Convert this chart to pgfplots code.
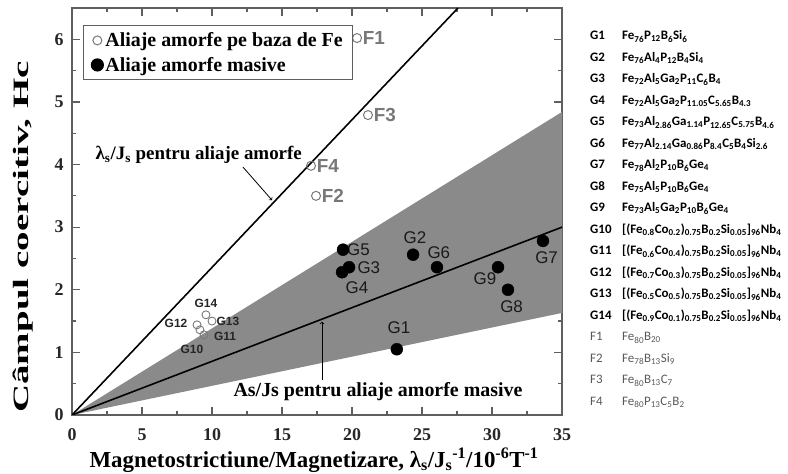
\documentclass[border=0pt]{standalone}
\usepackage{fontspec}
\setmainfont{Liberation Serif}
\newfontfamily\arialf{Liberation Sans}
\newfontfamily\calibf{Carlito}
\usepackage{graphicx}
\usepackage{pgfplots}
\pgfplotsset{compat=1.18}
\definecolor{band}{RGB}{138,138,138}
\definecolor{axgray}{RGB}{95,95,95}
\definecolor{fgray}{RGB}{120,120,120}
\newcommand{\fs}[1]{\fontsize{#1}{#1}\selectfont}
\newcommand{\s}[1]{\textsubscript{#1}}
\begin{document}
\begin{tikzpicture}[x=1bp,y=1bp]
\useasboundingbox (-72,-59) rectangle (716,415);
\begin{axis}[
  at={(0,0)}, anchor=south west,
  scale only axis, width=490bp, height=407bp,
  xmin=0, xmax=35, ymin=0, ymax=6.5,
  xtick={0,5,...,35}, ytick={0,1,...,6},
  xticklabels={\raisebox{5bp}{0},5,\raisebox{2bp}{10},15,\raisebox{2bp}{20},25,\raisebox{2bp}{30},\raisebox{5bp}{35}},
  minor x tick num=1, minor y tick num=1,
  major tick length=8bp, minor tick length=4bp,
  tick style={axgray, line width=1.2pt},
  axis line style={axgray, line width=1.5pt},
  tick pos=both, xticklabel pos=lower, yticklabel pos=left,
  /pgf/number format/assume math mode=true,
  ticklabel style={font=\bfseries\fs{18}, text=black!85},
  xticklabel style={yshift=-10bp},
  yticklabel style={xshift=-5bp},
  legend cell align=left,
  legend image code/.code={\draw[mark repeat=2,mark phase=2,#1] plot coordinates {(0bp,0bp) (6bp,0bp) (12bp,0bp)};},
  legend style={at={(0.022,0.958)}, anchor=north west, draw=axgray, line width=1.2pt,
    font=\bfseries\fs{20}, inner xsep=8bp, inner ysep=5bp, row sep=5bp},
]
% shaded band for bulk amorphous alloys
\addplot[fill=band, draw=none, forget plot] coordinates {(0,0) (35,4.84) (35,1.63) (0,0)};
% lines
\addplot[black, line width=1.6pt, forget plot] coordinates {(0,0) (27.57,6.5)};
\addplot[black, line width=1.6pt, forget plot] coordinates {(0,0) (35,3.0)};
% Fe-based amorphous alloys (F1-F4)
\addplot[only marks, mark=o, mark size=4.5bp, fgray, line width=1pt]
  coordinates {(20.36,6.02) (21.14,4.79) (17.07,3.98) (17.43,3.5)};
\addlegendentry{Aliaje amorfe pe baza de Fe}
% bulk amorphous alloys G1-G9
\addplot[only marks, mark=*, mark size=6bp, black]
  coordinates {(23.2,1.05) (24.36,2.56) (19.79,2.36) (19.29,2.28) (19.36,2.64) (26.07,2.36) (33.64,2.78) (31.14,2.0) (30.43,2.36)};
\addlegendentry{Aliaje amorfe masive}
% G10-G14
\addplot[only marks, mark=o, mark size=4bp, fgray, line width=0.9pt, forget plot]
  coordinates {(9.14,1.36) (9.43,1.28) (8.93,1.44) (10.0,1.5) (9.57,1.6)};
% point labels
\begin{scope}[every node/.style={font=\arialf\bfseries\fs{19}, text=fgray, anchor=west, inner sep=0pt}]
\node at (axis cs:20.76,6.02) {F1};
\node at (axis cs:21.54,4.79) {F3};
\node at (axis cs:17.47,3.98) {F4};
\node at (axis cs:17.83,3.5) {F2};
\end{scope}
\begin{scope}[every node/.style={font=\arialf\fs{17}, text=black!90, inner sep=0pt}]
\node[anchor=west] at (axis cs:19.64,2.64) {G5};
\node at (axis cs:24.5,2.83) {G2};
\node at (axis cs:21.2,2.35) {G3};
\node at (axis cs:20.36,2.04) {G4};
\node at (axis cs:26.2,2.6) {G6};
\node at (axis cs:29.5,2.17) {G9};
\node at (axis cs:31.4,1.73) {G8};
\node at (axis cs:33.9,2.52) {G7};
\node at (axis cs:23.36,1.39) {G1};
\end{scope}
\begin{scope}[every node/.style={font=\arialf\bfseries\fs{12}, text=black!85, inner sep=0pt}]
\node at (axis cs:9.57,1.79) {G14};
\node at (axis cs:7.43,1.47) {G12};
\node at (axis cs:11.14,1.5) {G13};
\node at (axis cs:10.93,1.25) {G11};
\node at (axis cs:8.57,1.04) {G10};
\end{scope}
% annotations
\node[anchor=east, font=\bfseries\fs{19}, inner sep=0pt] at (axis cs:16.43,4.15) {λ\s{s}/J\s{s} pentru aliaje amorfe};
\draw[->, line width=0.8pt] (axis cs:12.21,3.96) -- (axis cs:14.29,3.43);
\node[font=\bfseries\fs{20}, inner sep=0pt] at (axis cs:21.86,0.38) {As/Js pentru aliaje amorfe masive};
\draw[->, line width=0.8pt] (axis cs:17.86,0.56) -- (axis cs:17.86,1.49);
\end{axis}
% axis titles
\node[rotate=90, inner sep=0pt] at (-49,178) {\scalebox{1.78}[1]{\bfseries\fs{22}Câmpul coercitiv, Hc}};
\node[inner sep=0pt, font=\bfseries\fs{23}] at (242,-45) {Magnetostrictiune/Magnetizare, λ\s{s}/J\s{s}\textsuperscript{-1}/10\textsuperscript{-6}T\textsuperscript{-1}};
% list of compositions
\begin{scope}[every node/.style={anchor=base west, inner sep=0pt}]
\foreach \lab/\form [count=\i] in {
 G1/{Fe\s{76}P\s{12}B\s{6}Si\s{6}},
 G2/{Fe\s{76}Al\s{4}P\s{12}B\s{4}Si\s{4}},
 G3/{Fe\s{72}Al\s{5}Ga\s{2}P\s{11}C\s{6}B\s{4}},
 G4/{Fe\s{72}Al\s{5}Ga\s{2}P\s{11.05}C\s{5.65}B\s{4.3}},
 G5/{Fe\s{73}Al\s{2.86}Ga\s{1.14}P\s{12.65}C\s{5.75}B\s{4.6}},
 G6/{Fe\s{77}Al\s{2.14}Ga\s{0.86}P\s{8.4}C\s{5}B\s{4}Si\s{2.6}},
 G7/{Fe\s{78}Al\s{2}P\s{10}B\s{6}Ge\s{4}},
 G8/{Fe\s{75}Al\s{5}P\s{10}B\s{6}Ge\s{4}},
 G9/{Fe\s{73}Al\s{5}Ga\s{2}P\s{10}B\s{6}Ge\s{4}},
 G10/{[(Fe\s{0.8}Co\s{0.2})\s{0.75}B\s{0.2}Si\s{0.05}]\s{96}Nb\s{4}},
 G11/{[(Fe\s{0.6}Co\s{0.4})\s{0.75}B\s{0.2}Si\s{0.05}]\s{96}Nb\s{4}},
 G12/{[(Fe\s{0.7}Co\s{0.3})\s{0.75}B\s{0.2}Si\s{0.05}]\s{96}Nb\s{4}},
 G13/{[(Fe\s{0.5}Co\s{0.5})\s{0.75}B\s{0.2}Si\s{0.05}]\s{96}Nb\s{4}},
 G14/{[(Fe\s{0.9}Co\s{0.1})\s{0.75}B\s{0.2}Si\s{0.05}]\s{96}Nb\s{4}}}
{
 \node[font=\calibf\bfseries\fs{13}] at (518,{415-36-21.5*(\i-1)-4}) {\lab};
 \node[font=\calibf\bfseries\fs{13}] at (550,{415-36-21.5*(\i-1)-4}) {\form};
}
\foreach \lab/\form [count=\i from 15] in {
 F1/{Fe\s{80}B\s{20}},
 F2/{Fe\s{78}B\s{13}Si\s{9}},
 F3/{Fe\s{80}B\s{13}C\s{7}},
 F4/{Fe\s{80}P\s{13}C\s{5}B\s{2}}}
{
 \node[font=\calibf\fs{13}, text=black!65] at (518,{415-36-21.5*(\i-1)-4}) {\lab};
 \node[font=\calibf\fs{13}, text=black!65] at (550,{415-36-21.5*(\i-1)-4}) {\form};
}
\end{scope}
\end{tikzpicture}
\end{document}
